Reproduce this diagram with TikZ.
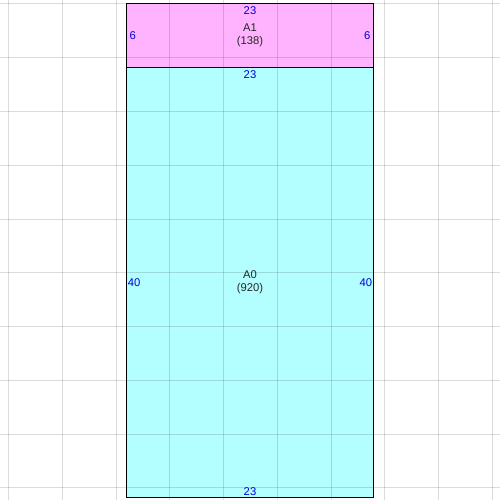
\documentclass[tikz,border=0pt]{standalone}
\usepackage{fontspec}
\setmainfont{Liberation Sans}
\begin{document}
\begin{tikzpicture}[x=0.02cm,y=-0.02cm,
  box/.style={draw=black,line width=0.55pt,inner sep=0pt,outer sep=0pt,minimum width=4.94cm,align=center,font=\fontsize{6.4}{7.6}\selectfont,text=black!85},
  dim/.style={inner sep=0pt,text=blue!85!black,font=\fontsize{6.4}{7.6}\selectfont},
  gridline/.style={black,opacity=0.14,line width=0.5pt}]
\useasboundingbox (0,0) rectangle (500,500);
\fill[white] (0,0) rectangle (500,500);
\node[box,fill={rgb,255:red,255;green,179;blue,255},minimum height=1.28cm] (A1) at (250,35.5) {A1\\(138)};
\node[box,fill={rgb,255:red,179;green,255;blue,255},minimum height=8.6cm] (A0) at (250,282.5) {A0\\(920)};
\foreach \p in {8.5,62.5,116.5,169.5,223.5,277.5,331.5,384.5,438.5,492.5}{
  \draw[gridline] (\p,0) -- (\p,500);
}
\foreach \p in {3.5,57.5,111.5,165.5,219.5,272.5,326.5,380.5,434.5,487.5}{
  \draw[gridline] (0,\p) -- (500,\p);
}
\node[dim,anchor=north] (t1) at ([yshift=-1.5pt]A1.north) {23};
\node[dim,anchor=west] (l1) at ([xshift=1.5pt]A1.west) {6};
\node[dim,anchor=east] (r1) at ([xshift=-1.5pt]A1.east) {6};
\node[dim,anchor=north] (t0) at ([yshift=-1.5pt]A0.north) {23};
\node[dim,anchor=west] (l0) at ([xshift=0.5pt]A0.west) {40};
\node[dim,anchor=east] (r0) at ([xshift=-0.5pt]A0.east) {40};
\node[dim,anchor=south] (b0) at ([yshift=1pt]A0.south) {23};
\end{tikzpicture}
\end{document}
